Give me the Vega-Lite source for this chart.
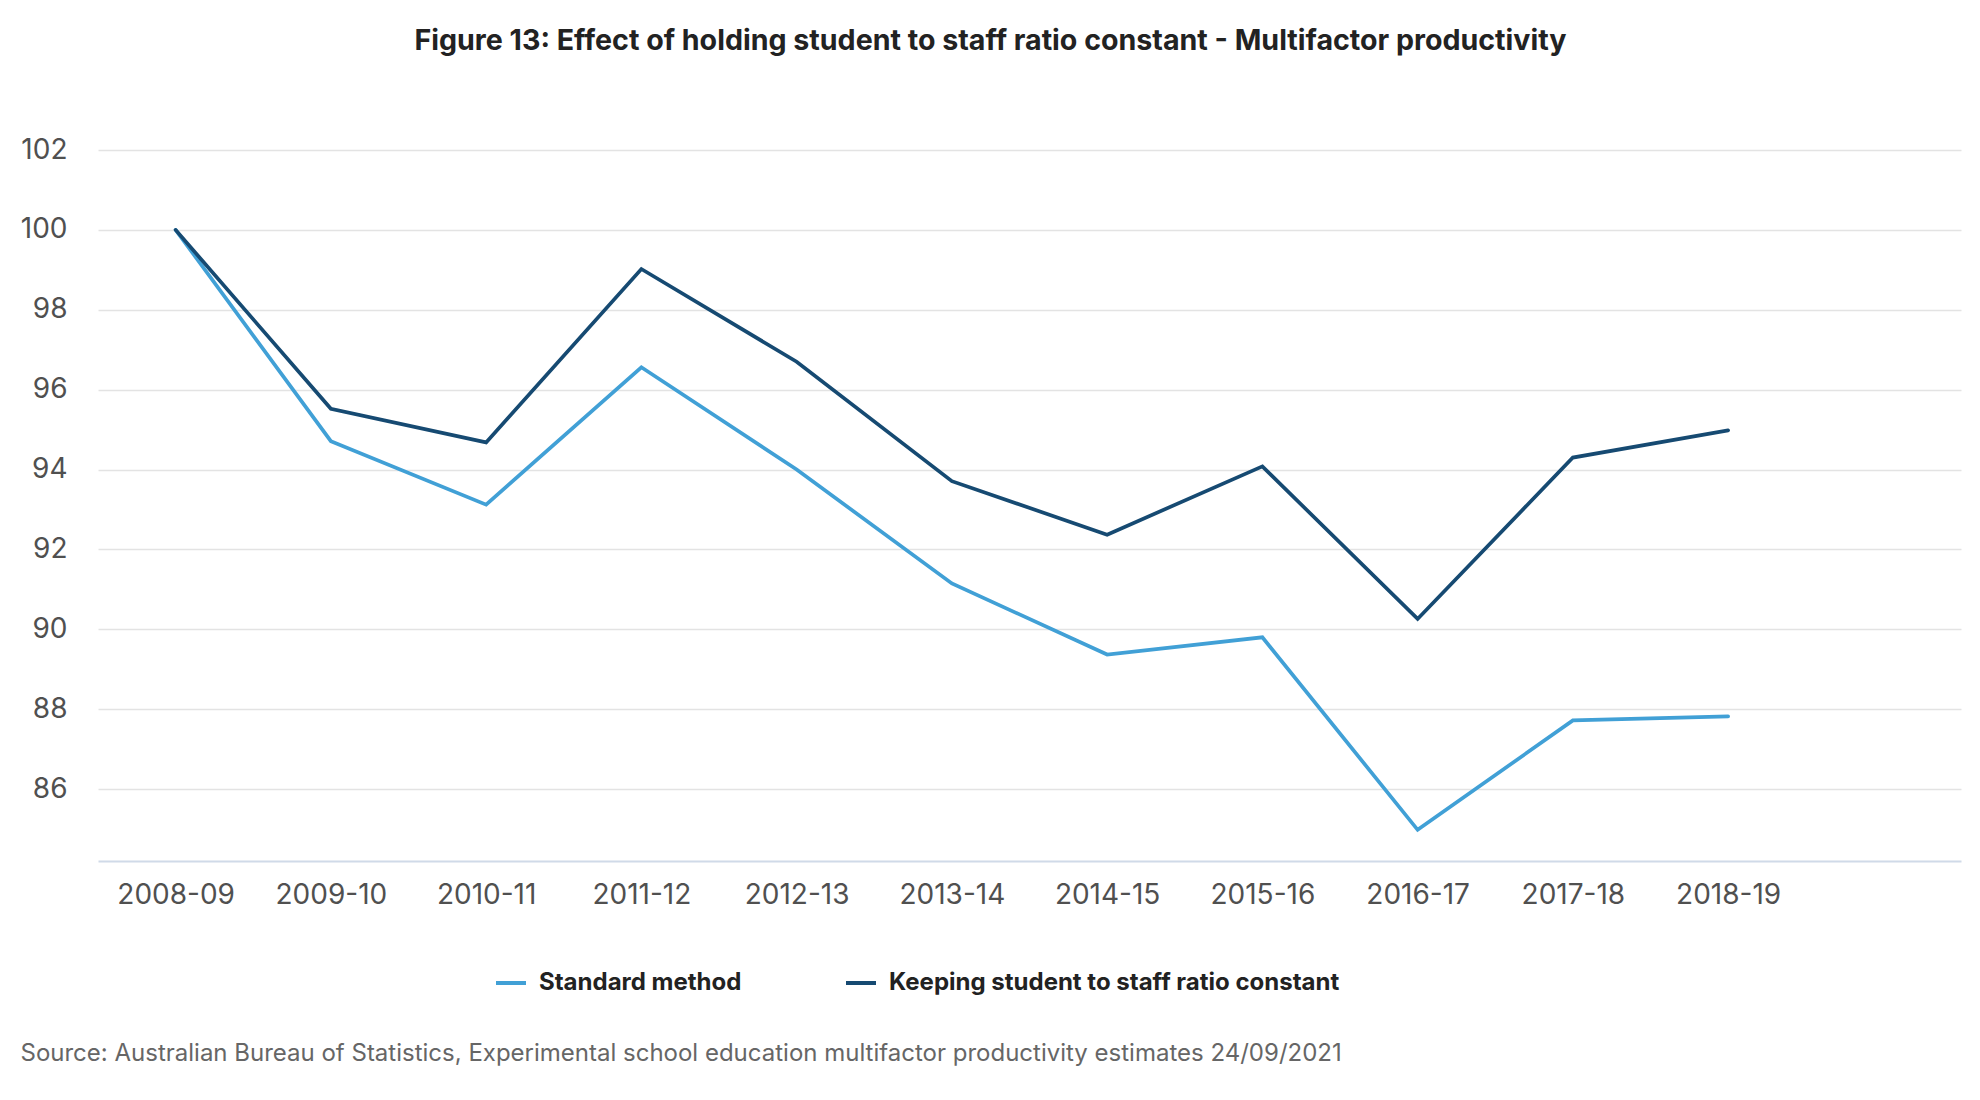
{
  "$schema": "https://vega.github.io/schema/vega-lite/v6.json",
  "autosize": {"type": "none"},
  "padding": {"left": 98, "top": 150, "right": 19, "bottom": 239},
  "width": 1863,
  "height": 711,
  "background": "white",
  "title": {
    "text": "Figure 13: Effect of holding student to staff ratio constant - Multifactor productivity",
    "font": "Inter",
    "fontSize": 28.6,
    "fontWeight": "bold",
    "color": "#222222",
    "anchor": "middle",
    "dx": -39,
    "offset": 80
  },
  "data": {
    "values": [
      {"year": "2008-09", "series": "Standard method", "value": 100.0},
      {"year": "2009-10", "series": "Standard method", "value": 94.71},
      {"year": "2010-11", "series": "Standard method", "value": 93.12},
      {"year": "2011-12", "series": "Standard method", "value": 96.56},
      {"year": "2012-13", "series": "Standard method", "value": 94.0},
      {"year": "2013-14", "series": "Standard method", "value": 91.15},
      {"year": "2014-15", "series": "Standard method", "value": 89.37},
      {"year": "2015-16", "series": "Standard method", "value": 89.8},
      {"year": "2016-17", "series": "Standard method", "value": 84.98},
      {"year": "2017-18", "series": "Standard method", "value": 87.72},
      {"year": "2018-19", "series": "Standard method", "value": 87.82},
      {"year": "2008-09", "series": "Keeping student to staff ratio constant", "value": 100.0},
      {"year": "2009-10", "series": "Keeping student to staff ratio constant", "value": 95.52},
      {"year": "2010-11", "series": "Keeping student to staff ratio constant", "value": 94.68},
      {"year": "2011-12", "series": "Keeping student to staff ratio constant", "value": 99.02},
      {"year": "2012-13", "series": "Keeping student to staff ratio constant", "value": 96.7},
      {"year": "2013-14", "series": "Keeping student to staff ratio constant", "value": 93.71},
      {"year": "2014-15", "series": "Keeping student to staff ratio constant", "value": 92.37},
      {"year": "2015-16", "series": "Keeping student to staff ratio constant", "value": 94.08},
      {"year": "2016-17", "series": "Keeping student to staff ratio constant", "value": 90.26},
      {"year": "2017-18", "series": "Keeping student to staff ratio constant", "value": 94.3},
      {"year": "2018-19", "series": "Keeping student to staff ratio constant", "value": 94.98}
    ]
  },
  "mark": {"type": "line", "strokeWidth": 3.7, "strokeJoin": "miter", "strokeCap": "round"},
  "encoding": {
    "x": {
      "field": "year",
      "type": "ordinal",
      "scale": {
        "type": "point",
        "padding": 0.5,
        "domain": ["2008-09","2009-10","2010-11","2011-12","2012-13","2013-14","2014-15","2015-16","2016-17","2017-18","2018-19","2019-20"]
      },
      "axis": {
        "title": "Source: Australian Bureau of Statistics, Experimental school education multifactor productivity estimates 24/09/2021",
        "titleFont": "Inter",
        "titleFontSize": 24,
        "titleFontWeight": "normal",
        "titleColor": "#666666",
        "titleAnchor": "start",
        "titleAlign": "left",
        "titleX": -78,
        "titleY": 199,
        "titleBaseline": "alphabetic",
        "labelExpr": "datum.value == '2019-20' ? '' : datum.label",
        "labelFont": "Inter",
        "labelFontSize": 28,
        "labelColor": "#505050",
        "labelAngle": 0,
        "labelPadding": 20,
        "ticks": false,
        "domain": true,
        "domainColor": "#d0dae8",
        "domainWidth": 2,
        "grid": false
      }
    },
    "y": {
      "field": "value",
      "type": "quantitative",
      "scale": {"domain": [84.2, 102], "nice": false, "zero": false},
      "axis": {
        "title": null,
        "values": [86, 88, 90, 92, 94, 96, 98, 100, 102],
        "labelFont": "Inter",
        "labelFontSize": 28,
        "labelColor": "#505050",
        "labelPadding": 31,
        "ticks": false,
        "domain": false,
        "grid": true,
        "gridColor": "#e3e3e3",
        "gridWidth": 1.5
      }
    },
    "color": {
      "field": "series",
      "type": "nominal",
      "scale": {
        "domain": ["Standard method", "Keeping student to staff ratio constant"],
        "range": ["#41a0d6", "#164a72"]
      },
      "legend": {
        "title": null,
        "orient": "none",
        "legendX": 396,
        "legendY": 816,
        "direction": "horizontal",
        "padding": 0,
        "symbolType": "stroke",
        "symbolSize": 900,
        "symbolStrokeWidth": 4,
        "labelFont": "Inter",
        "labelFontSize": 24,
        "labelFontWeight": "bold",
        "labelColor": "#222222",
        "labelOffset": 11,
        "columnPadding": 96,
        "labelLimit": 1000
      }
    }
  },
  "config": {"view": {"stroke": null}}
}
